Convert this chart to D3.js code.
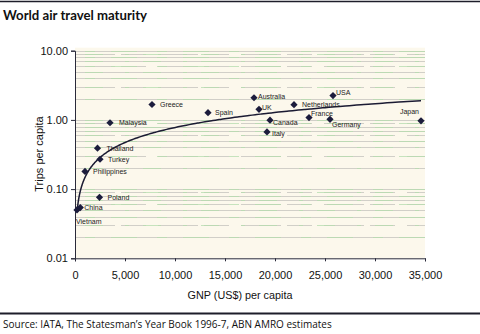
<!DOCTYPE html>
<html>
<head>
<meta charset="utf-8">
<script src="https://cdn.jsdelivr.net/npm/d3@7"></script>
<style>
  html, body { margin: 0; padding: 0; background: #fff; }
  svg { display: block; }
  .axis path, .axis line { stroke: #2a2a3a; }
  .axis text { font-family: "Liberation Sans", Arial, sans-serif; font-size: 11px; fill: #111; }
</style>
</head>
<body>
<svg id="chart" width="480" height="334"></svg>
<script>
// Countries, GNP per capita (US$) and air trips per capita
const countries = ["Greece", "Spain", "Malaysia", "Thailand", "Turkey", "Philippines", "Poland",
  "China", "Vietnam", "Australia", "USA", "UK", "Netherlands", "France", "Canada", "Germany",
  "Italy", "Japan"];
const gnp = [7700, 13300, 3500, 2250, 2500, 1000, 2450, 530, 200, 17900, 25800, 18400, 21900,
  23400, 19500, 25500, 19200, 34600];
const trips = [1.67, 1.27, 0.91, 0.39, 0.27, 0.18, 0.076, 0.054, 0.050, 2.09, 2.25, 1.42, 1.66,
  1.08, 0.99, 1.02, 0.67, 0.97];

const xTicks = [0, 5000, 10000, 15000, 20000, 25000, 30000, 35000];
const yTicks = [0.01, 0.1, 1, 10];

// Label placement relative to each marker: [dx, dy, anchor]
const labelOffset = {
  Greece: [8, 0, "start"], Spain: [7, 0, "start"], Malaysia: [9, 0, "start"],
  Thailand: [9, 0, "start"], Turkey: [8, 0, "start"], Philippines: [8, 0, "start"],
  Poland: [8, 0, "start"], China: [4, 0, "start"], Vietnam: [-1, 12, "start"],
  Australia: [4, -1.5, "start"], USA: [3, -3, "start"], UK: [3, -2, "start"],
  Netherlands: [8, 0, "start"], France: [2, -4, "start"], Canada: [3, 2, "start"],
  Germany: [2, 5, "start"], Italy: [5, 1.5, "start"], Japan: [-2, -9, "end"]
};

const svg = d3.select("#chart");
const plotL = 75, plotR = 425, plotT = 50.7, plotB = 258.3;

const x = d3.scaleLinear().domain([0, 35000]).range([plotL, plotR]);
const y = d3.scaleLog().domain([0.01, 10]).range([plotB, plotT]);

// Rules above the title and below the chart
svg.append("line").attr("x1", 0).attr("x2", 480).attr("y1", 1.5).attr("y2", 1.5)
  .attr("stroke", "#1d1d2a").attr("stroke-width", 1.6);
svg.append("line").attr("x1", 0).attr("x2", 480).attr("y1", 313.5).attr("y2", 313.5)
  .attr("stroke", "#1d1d2a").attr("stroke-width", 2);

svg.append("text").attr("x", 3).attr("y", 19.5)
  .attr("font-family", "Lato, 'Open Sans', sans-serif").attr("font-weight", 700)
  .attr("font-size", 13.2).attr("fill", "#111").text("World air travel maturity");

svg.append("text").attr("x", 3).attr("y", 328)
  .attr("font-family", "'Open Sans', Lato, sans-serif").attr("font-size", 10)
  .attr("fill", "#111").text("Source: IATA, The Statesman\u2019s Year Book 1996-7, ABN AMRO estimates");

// Plot area
svg.append("rect").attr("x", plotL).attr("y", plotT - 3).attr("width", plotR - plotL)
  .attr("height", plotB - plotT + 3).attr("fill", "#fcf8ec");

// Minor and major horizontal gridlines on the log scale
const gridVals = [];
for (let e = -2; e <= 0; e++) {
  for (let m = 1; m <= 9; m++) gridVals.push(m * Math.pow(10, e));
}
gridVals.push(10);
const gridLines = gridVals.filter(v => v > 0.0100001);
const grid = svg.append("g");
grid.selectAll("line.g1").data(gridLines).join("line")
  .attr("x1", plotL).attr("x2", plotR)
  .attr("y1", d => Math.round(y(d)) + 0.5).attr("y2", d => Math.round(y(d)) + 0.5)
  .attr("stroke", "#9a9a9a").attr("stroke-opacity", 0.55).attr("stroke-width", 0.8)
  .attr("stroke-dasharray", (d, i) => i % 3 === 1 ? "40,6,25,12" : null);
grid.selectAll("line.g2").data(gridLines).join("line")
  .attr("x1", plotL + 10).attr("x2", plotR)
  .attr("y1", d => Math.round(y(d)) + 0.5).attr("y2", d => Math.round(y(d)) + 0.5)
  .attr("stroke", "#b4dcae").attr("stroke-opacity", 0.75).attr("stroke-width", 1)
  .attr("stroke-dasharray", (d, i) => i % 2 ? "18,22,4,14" : "10,16,26,20");

// Axes
const yAxis = d3.axisLeft(y).tickValues(yTicks).tickFormat(d3.format(".2f"))
  .tickSizeOuter(0).tickSize(4).tickPadding(3);
svg.append("g").attr("class", "axis").attr("transform", `translate(${plotL},0)`).call(yAxis);

const xAxis = d3.axisBottom(x).tickValues(xTicks).tickFormat(d3.format(","))
  .tickSizeOuter(0).tickSize(3).tickPadding(10);
svg.append("g").attr("class", "axis").attr("transform", `translate(0,${plotB})`).call(xAxis);

svg.append("text").attr("transform", "translate(43,154) rotate(-90)")
  .attr("text-anchor", "middle").attr("font-family", "'Liberation Sans', Arial, sans-serif")
  .attr("font-size", 11).attr("fill", "#111").text("Trips per capita");

svg.append("text").attr("x", 240).attr("y", 299).attr("text-anchor", "middle")
  .attr("font-family", "'Liberation Sans', Arial, sans-serif")
  .attr("font-size", 10.8).attr("fill", "#111").text("GNP (US$) per capita");

// Power trendline fitted by least squares in log-log space
const lx = gnp.map(Math.log), ly = trips.map(Math.log);
const mx = d3.mean(lx), my = d3.mean(ly);
const b = d3.sum(lx, (v, i) => (v - mx) * (ly[i] - my)) / d3.sum(lx, v => (v - mx) ** 2);
const a = Math.exp(my - b * mx);
const [gMin, gMax] = d3.extent(gnp);
const trend = d3.range(0, 201).map(i => {
  const g = gMin * Math.pow(gMax / gMin, i / 200);
  return [g, a * Math.pow(g, b)];
});
svg.append("path").datum(trend)
  .attr("d", d3.line().x(d => x(d[0])).y(d => y(d[1])).curve(d3.curveMonotoneX))
  .attr("fill", "none").attr("stroke", "#1b1b33").attr("stroke-width", 1.5);

// Markers and country labels
const pts = countries.map((c, i) => ({ c, g: gnp[i], t: trips[i] }));
const diamond = d3.symbol().type(d3.symbolSquare).size(26);
svg.append("g").selectAll("path").data(pts).join("path")
  .attr("d", diamond)
  .attr("transform", d => `translate(${x(d.g)},${y(d.t)}) rotate(45)`)
  .attr("fill", "#1c1c3c");

svg.append("g").selectAll("text").data(pts).join("text")
  .attr("x", d => x(d.g) + labelOffset[d.c][0])
  .attr("y", d => y(d.t) + labelOffset[d.c][1])
  .attr("dy", "0.35em")
  .attr("text-anchor", d => labelOffset[d.c][2])
  .attr("font-family", "'Liberation Sans', Arial, sans-serif")
  .attr("font-size", 7).attr("fill", "#222")
  .text(d => d.c);
</script>
</body>
</html>
